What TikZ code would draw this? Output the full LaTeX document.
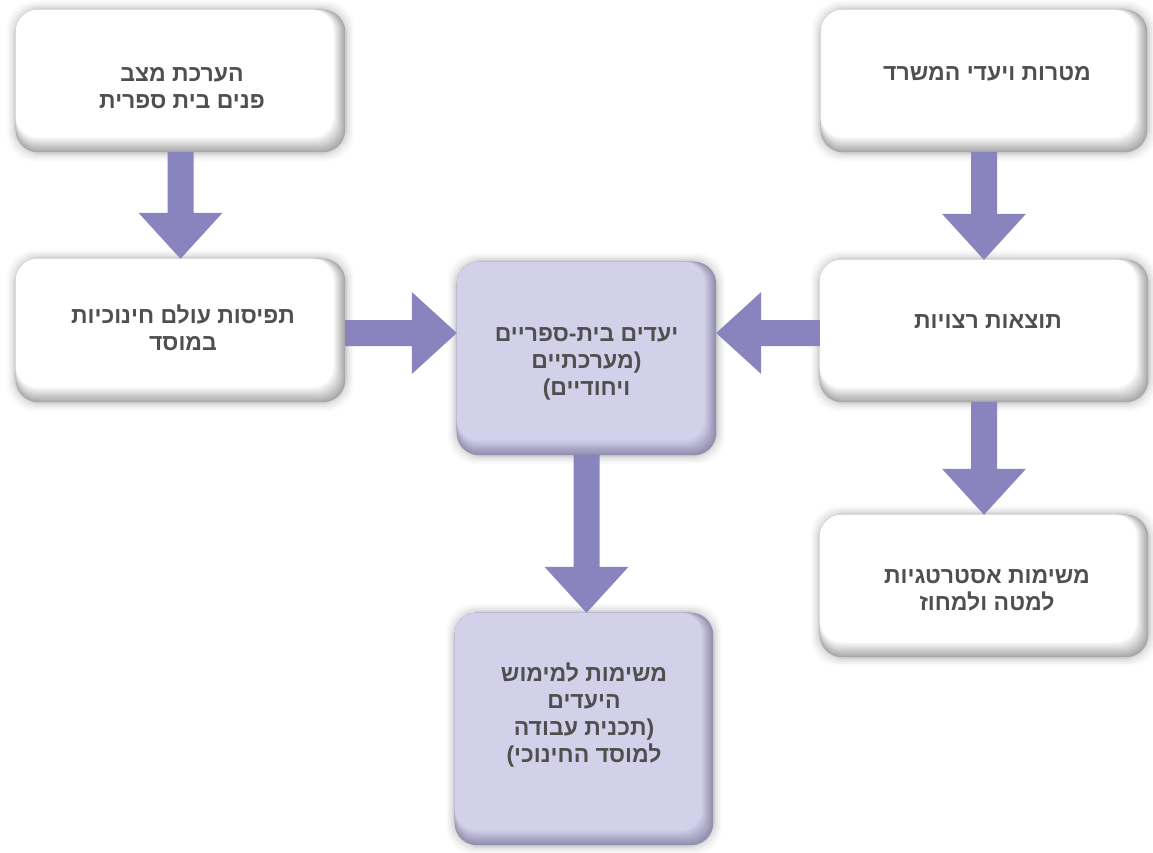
\documentclass[tikz,border=0pt]{standalone}
\usepackage{fontspec}
\usetikzlibrary{calc}
\TeXXeTstate=1
\newfontfamily\hebfont[Script=Hebrew]{Liberation Sans}
\newcommand\heb[1]{\hbox{\beginR #1\endR}}
\newcommand\gl[1]{\hbox{\XeTeXglyph\XeTeXglyphindex "#1" }}
\definecolor{arrowc}{HTML}{8983BE}
\definecolor{txtc}{HTML}{4F4F4F}
\definecolor{facew}{HTML}{FFFFFF}
\definecolor{bandw}{HTML}{A8A8A8}
\definecolor{facel}{HTML}{D3D1EA}
\definecolor{bandl}{HTML}{918EAE}
\tikzset{
  boxnode/.style={inner sep=0pt, minimum width=#1},
  hebtxt/.style={font=\hebfont\bfseries\fontsize{23}{27}\selectfont, text=txtc, align=center, inner sep=0pt},
}
\newcommand\boxlayers[3]{%
  \foreach \g/\o in {9/0.02,7/0.03,5/0.04,3/0.05,1.5/0.06}{%
    \fill[black,opacity=\o,rounded corners=28pt] ($(#1.north west)+(-\g,-\g)$) rectangle ($(#1.south east)+(\g,\g)$);}%
  \foreach \i in {0,...,13}{%
    \pgfmathtruncatemacro\pc{100-\i*100/13}%
    \fill[#3!\pc!#2,rounded corners=22pt] (#1.north west) rectangle ($(#1.south east)+(-0.9*\i,-1.15*\i)$);}%
}
% vertical arrow from south of #1 to north of #2
\newcommand\varrow[2]{%
  \fill[arrowc] ($(#1.south)+(-13,0)$) -- ($(#1.south|-#2.north)+(-13,-46)$) -- ($(#1.south|-#2.north)+(-42,-46)$) -- (#1.south|-#2.north) -- ($(#1.south|-#2.north)+(42,-46)$) -- ($(#1.south|-#2.north)+(13,-46)$) -- ($(#1.south)+(13,0)$) -- cycle;}
% horizontal arrow from coordinate #1 to tip #2, #3 = 1 (rightwards) or -1 (leftwards)
\newcommand\harrow[3]{%
  \fill[arrowc] ($(#1)+(0,-13)$) -- ($(#2)+(-45*#3,-13)$) -- ($(#2)+(-45*#3,-41)$) -- (#2) -- ($(#2)+(-45*#3,41)$) -- ($(#2)+(-45*#3,13)$) -- ($(#1)+(0,13)$) -- cycle;}
\begin{document}
\begin{tikzpicture}[x=1pt,y=-1pt]
\useasboundingbox (0,0) rectangle (1153,852);
\fill[white] (0,0) rectangle (1153,852);
% box nodes (geometry only)
\node[boxnode=329pt, minimum height=142pt] (tl) at (180.5,81) {};
\node[boxnode=326pt, minimum height=142pt] (tr) at (984,81) {};
\node[boxnode=329pt, minimum height=143pt] (ml) at (180.5,330.5) {};
\node[boxnode=328pt, minimum height=142pt] (mr) at (984,331) {};
\node[boxnode=328pt, minimum height=142pt] (br) at (984,586) {};
\node[boxnode=259pt, minimum height=193pt] (c) at (586.5,358.5) {};
\node[boxnode=258pt, minimum height=232pt] (bc) at (584,729) {};
% box faces
\boxlayers{tl}{facew}{bandw}
\boxlayers{tr}{facew}{bandw}
\boxlayers{ml}{facew}{bandw}
\boxlayers{mr}{facew}{bandw}
\boxlayers{br}{facew}{bandw}
\boxlayers{c}{facel}{bandl}
\boxlayers{bc}{facel}{bandl}
% arrows
\varrow{tl}{ml}
\varrow{tr}{mr}
\varrow{mr}{br}
\varrow{c}{bc}
\coordinate (a1) at ($(ml.east)+(0,2.5)$);
\coordinate (a1t) at (c.west |- a1);
\harrow{a1}{a1t}{1}
\coordinate (a2) at ($(mr.west)+(0,2)$);
\coordinate (a2t) at (c.east |- a2);
\harrow{a2}{a2t}{-1}
% texts
\node[hebtxt] (tlt) at ($(tl)+(1.5,7)$) {\heb{הערכת מצב}\\\heb{פנים בית ספרית}};
\node[hebtxt] (trt) at ($(tr)+(3,-7)$) {\heb{מטרות ויעדי המשרד}};
\node[hebtxt] (mlt) at ($(ml)+(2.5,-2.5)$) {\heb{תפיסות עולם חינוכיות}\\\heb{במוסד}};
\node[hebtxt] (mrt) at ($(mr)+(4,-9)$) {\heb{תוצאות רצויות}};
\node[hebtxt] (brt) at ($(br)+(3,4)$) {\heb{משימות אסטרטגיות}\\\heb{למטה ולמחוז}};
\node[hebtxt] (ct) at ($(c)+(0,5)$) {\heb{יעדים בית-ספריים}\\\heb{\gl{parenright}מערכתיים}\\\heb{ויחודיים\gl{parenleft}}};
\node[hebtxt] (bct) at ($(bc)+(0,-14)$) {\heb{משימות למימוש}\\\heb{היעדים}\\\heb{\gl{parenright}תכנית עבודה}\\\heb{למוסד החינוכי\gl{parenleft}}};
\end{tikzpicture}
\end{document}
